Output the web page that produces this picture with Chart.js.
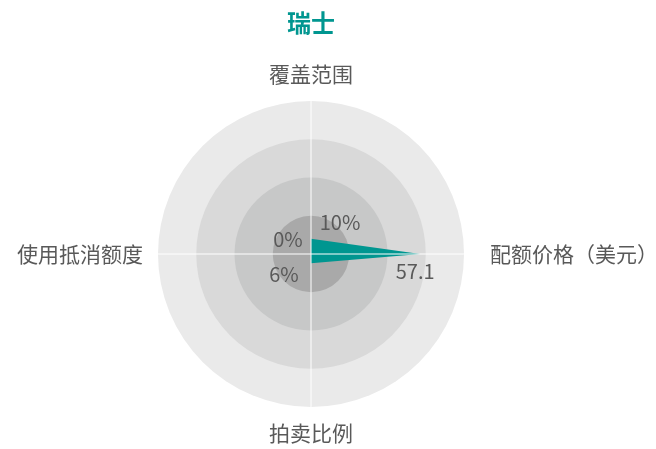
<!DOCTYPE html>
<html>
<head>
<meta charset="utf-8">
<script src="https://cdn.jsdelivr.net/npm/chart.js@4/dist/chart.umd.min.js"></script>
<style>
  html, body { margin: 0; padding: 0; background: #ffffff; }
  #wrap { width: 656px; height: 449px; }
</style>
</head>
<body>
<div id="wrap"><canvas id="c" width="656" height="449"></canvas></div>
<script>
// ---- data ----
const chartTitle = '瑞士';
const indicators = ['覆盖范围', '配额价格（美元）', '拍卖比例', '使用抵消额度'];
const values = [10, 57.1, 6, 0];
const valueLabels = ['10%', '57.1', '6%', '0%'];
const axisMax = [100, 80, 100, 100];
const bandLevels = [0.25, 0.5, 0.75, 1];

// normalised values for the shared 0..1 radial scale
const normalised = values.map((v, i) => v / axisMax[i]);

// ---- styles ----
const FONT = '"Noto Sans CJK SC", "Noto Sans", sans-serif';
const TEAL = '#009690';
const TEXT = '#595959';
const bandColors = ['#a9a9a9', '#c7c8c8', '#d9d9d9', '#eaeaea'];
const labelOffsets = [[29, -16], [-5, 17], [-27, 11], [-23, -15]];
const indicatorGap = [27, 26, 26, 15];

const bandsPlugin = {
  id: 'bands',
  beforeDatasetsDraw(chart) {
    const s = chart.scales.r;
    const ctx = chart.ctx;
    ctx.save();
    for (let i = bandLevels.length - 1; i >= 0; i--) {
      const rad = s.getDistanceFromCenterForValue(bandLevels[i]);
      ctx.beginPath();
      ctx.arc(s.xCenter, s.yCenter, rad, 0, Math.PI * 2);
      ctx.fillStyle = bandColors[i];
      ctx.fill();
    }
    ctx.restore();
  }
};

const labelsPlugin = {
  id: 'labels',
  afterDraw(chart) {
    const s = chart.scales.r;
    const ctx = chart.ctx;
    ctx.save();
    // indicator names, positioned through the radial scale
    ctx.font = '21px ' + FONT;
    ctx.fillStyle = TEXT;
    ctx.textBaseline = 'middle';
    indicators.forEach((name, i) => {
      const p = s.getPointPosition(i, s.drawingArea + indicatorGap[i]);
      const cos = Math.cos(p.angle);
      ctx.textAlign = Math.abs(cos) < 0.01 ? 'center' : (cos > 0 ? 'left' : 'right');
      ctx.fillText(name, p.x, p.y);
    });
    // value labels beside each vertex
    const meta = chart.getDatasetMeta(0);
    ctx.font = '20px ' + FONT;
    ctx.textAlign = 'center';
    meta.data.forEach((pt, i) => {
      ctx.fillText(valueLabels[i], pt.x + labelOffsets[i][0], pt.y + labelOffsets[i][1]);
    });
    ctx.restore();
  }
};

new Chart(document.getElementById('c'), {
  type: 'radar',
  data: {
    labels: indicators,
    datasets: [{
      label: chartTitle,
      data: normalised,
      backgroundColor: TEAL,
      borderColor: TEAL,
      borderWidth: 0,
      fill: true,
      pointRadius: 0,
      pointHoverRadius: 0
    }]
  },
  options: {
    responsive: false,
    animation: false,
    layout: { padding: { top: 0, bottom: 42, left: 0, right: 34 } },
    plugins: {
      legend: { display: false },
      tooltip: { enabled: false },
      title: {
        display: true,
        text: chartTitle,
        color: TEAL,
        font: { family: FONT, size: 24, weight: 'bold' },
        padding: { top: 8, bottom: 64.2 }
      }
    },
    scales: {
      r: {
        min: 0,
        max: 1,
        ticks: { display: false, stepSize: 0.25, z: 1 },
        grid: { display: false, z: 1 },
        angleLines: { display: true, color: '#ffffff', lineWidth: 1 },
        pointLabels: { display: false }
      }
    }
  },
  plugins: [bandsPlugin, labelsPlugin]
});
</script>
</body>
</html>
